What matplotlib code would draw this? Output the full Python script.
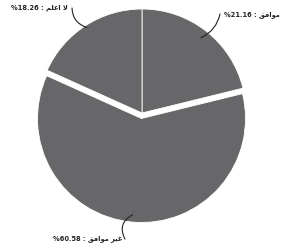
import numpy as np
import matplotlib
matplotlib.use("Agg")
import matplotlib.pyplot as plt

# Data
categories = ["موافق", "غير موافق", "لا اعلم"]
values = [21.16, 60.58, 18.26]
# visual-order Arabic presentation forms for display
display_names = [
    "\uFED6\uFED3\uFE8D\uFEEE\uFEE3",
    "\uFED6\uFED3\uFE8D\uFEEE\uFEE3 \uFEAE\uFEF4\uFECF",
    "\uFEE2\uFEE0\uFECB\uFE8D \uFEFB",
]

W, H = 281, 249
fig = plt.figure(figsize=(W / 100, H / 100), dpi=100)
ax = fig.add_axes([0, 0, 1, 1])

cx, cy, R = 142, 136, 104
explode = [0, 5.5, 0]
wedges, _ = ax.pie(values, startangle=90, counterclock=False, explode=explode,
                   colors=["#67676a"] * 3, radius=R, center=(cx, cy),
                   wedgeprops=dict(edgecolor="white", linewidth=0.6),
                   frame=True)
ax.set_xlim(0, W)
ax.set_ylim(0, H)
ax.set_aspect("equal")
ax.axis("off")

# label layout (pixel coordinates, y downward)
layout = [
    dict(text=(280, 15), ha="right", end=(220, 14), rad=-0.25, frac=0.92),
    dict(text=(122, 239), ha="right", end=(125, 239), rad=-0.5, frac=0.93),
    dict(text=(68, 8), ha="right", end=(72, 8), rad=0.35, frac=0.98),
]

for w, v, name, lay in zip(wedges, values, display_names, layout):
    ang = np.deg2rad((w.theta1 + w.theta2) / 2)
    wx, wy = w.center
    sx = wx + w.r * lay["frac"] * np.cos(ang)
    sy = wy + w.r * lay["frac"] * np.sin(ang)
    tx, ty = lay["text"]
    ex, ey = lay["end"]
    ax.text(tx, H - ty, f"%{v:.2f} : {name}", ha=lay["ha"], va="center",
            fontsize=4.8, fontweight="bold", family=["DejaVu Sans"], color="#222222")
    ax.annotate("", xy=(sx, sy), xytext=(ex, H - ey),
                arrowprops=dict(arrowstyle="-", color="#222222", lw=0.8,
                                shrinkA=0, shrinkB=0,
                                connectionstyle=f"arc3,rad={lay['rad']}"))

fig.savefig("out.png", dpi=100)
